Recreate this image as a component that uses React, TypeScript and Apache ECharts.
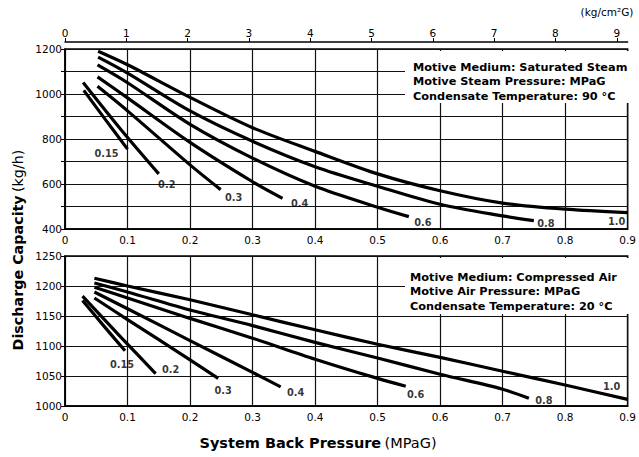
import React, { useEffect, useRef } from 'react';
import * as echarts from 'echarts';

const FONT = '"DejaVu Sans", Verdana, sans-serif';

// Motive pressures (MPaG) labelling each curve
const pressures = ['0.15', '0.2', '0.3', '0.4', '0.6', '0.8', '1.0'];

// Saturated steam (top chart): [back pressure MPaG, capacity kg/h]
const steam015 = [[0.030, 1016], [0.065, 885], [0.1, 755]];
const steam02 = [[0.029, 1051], [0.09, 840], [0.15, 645]];
const steam03 = [[0.052, 1034], [0.1, 925], [0.2, 685], [0.249, 575]];
const steam04 = [[0.052, 1076], [0.1, 983], [0.2, 785], [0.3, 610], [0.348, 536]];
const steam06 = [[0.052, 1129], [0.1, 1050], [0.2, 865], [0.3, 715], [0.4, 590], [0.5, 497], [0.55, 455]];
const steam08 = [[0.053, 1164], [0.1, 1093], [0.2, 925], [0.3, 790], [0.4, 677], [0.5, 590], [0.6, 510], [0.7, 458], [0.75, 437]];
const steam10 = [[0.053, 1190], [0.1, 1130], [0.2, 985], [0.3, 850], [0.4, 745], [0.5, 645], [0.6, 570], [0.7, 515], [0.8, 488], [0.9, 473]];

// Compressed air (bottom chart)
const air015 = [[0.028, 1176], [0.06, 1136], [0.096, 1092]];
const air02 = [[0.028, 1183], [0.09, 1114], [0.145, 1054]];
const air03 = [[0.047, 1180], [0.1, 1144], [0.2, 1077], [0.245, 1046]];
const air04 = [[0.047, 1190], [0.1, 1162], [0.2, 1109], [0.3, 1056], [0.345, 1032]];
const air06 = [[0.047, 1198], [0.1, 1180], [0.2, 1146], [0.3, 1113], [0.4, 1078], [0.5, 1046], [0.545, 1033]];
const air08 = [[0.047, 1205], [0.1, 1190], [0.2, 1160], [0.3, 1134], [0.4, 1106], [0.5, 1080], [0.6, 1053], [0.7, 1028], [0.742, 1013]];
const air10 = [[0.047, 1213], [0.1, 1200], [0.2, 1177], [0.3, 1152], [0.4, 1127], [0.5, 1103], [0.6, 1081], [0.7, 1058], [0.8, 1035], [0.9, 1011]];

const steamCurves = [steam015, steam02, steam03, steam04, steam06, steam08, steam10];
const airCurves = [air015, air02, air03, air04, air06, air08, air10];

// Text annotations
const steamNotes = ['Motive Medium: Saturated Steam', 'Motive Steam Pressure: MPaG', 'Condensate Temperature: 90 °C'];
const airNotes = ['Motive Medium: Compressed Air', 'Motive Air Pressure: MPaG', 'Condensate Temperature: 20 °C'];

// label offsets (px) from each curve end
const steamLabelOffsets = [[-21, 4], [8, 11], [13, 8], [17, 5], [14, 6], [12, 3], [-11, 9]];
const airLabelOffsets = [[-3, 14], [15, -4], [5, 12], [15, 6], [10, 8], [15, 2], [-16, -13]];

const KG_PER_MPA = 1 / 0.0980665;

function buildOption() {
  const axisText = { color: '#000', fontSize: 10.5, fontFamily: FONT };
  const xBase = (gridIndex: number) => ({
    type: 'value',
    gridIndex,
    min: 0,
    max: 0.9,
    interval: 0.1,
    axisLine: { show: true, lineStyle: { color: '#000', width: 1.5 } },
    axisTick: { show: false },
    axisLabel: { ...axisText, margin: 5, formatter: (v: number) => (v === 0 ? '0' : v.toFixed(1)) },
    splitLine: { show: true, lineStyle: { color: '#111', width: 1.2 } },
  });

  const lineSeries = (curves: number[][][], idx: number) =>
    curves.map((d, i) => ({
      type: 'line',
      name: pressures[i] + (idx === 0 ? ' steam' : ' air'),
      xAxisIndex: idx,
      yAxisIndex: idx,
      data: d,
      smooth: 0.3,
      showSymbol: false,
      silent: true,
      lineStyle: { color: '#000', width: 3.2 },
      z: 3,
    }));

  const labelSeries = (curves: number[][][], offsets: number[][], idx: number) => ({
    type: 'scatter',
    xAxisIndex: idx,
    yAxisIndex: idx,
    symbolSize: 1,
    silent: true,
    itemStyle: { color: 'rgba(0,0,0,0)' },
    z: 4,
    data: curves.map((d, i) => ({
      name: pressures[i],
      value: d[d.length - 1],
      label: { offset: offsets[i] },
    })),
    label: {
      show: true,
      position: 'inside',
      formatter: '{b}',
      color: '#000',
      fontSize: 9.8,
      fontWeight: 'bold',
      fontFamily: FONT,
    },
  });

  const noteGraphics = (lines: string[], x: number, y0: number, rect: number[]) => [
    {
      type: 'rect',
      z: 10,
      shape: { x: rect[0], y: rect[1], width: rect[2], height: rect[3] },
      style: { fill: '#fff' },
    },
    ...lines.map((t, i) => ({
      type: 'text',
      z: 11,
      x,
      y: y0 + i * 14.7,
      style: {
        text: t,
        fill: '#000',
        fontSize: 11.3,
        fontWeight: 'bold',
        fontFamily: FONT,
        align: 'left',
        verticalAlign: 'middle',
      },
    })),
  ];

  return {
    animation: false,
    backgroundColor: '#fff',
    grid: [
      { left: 65, right: 4, top: 49, height: 180, show: true, borderColor: '#000', borderWidth: 1.5, backgroundColor: 'transparent' },
      { left: 65, right: 4, top: 256, height: 150, show: true, borderColor: '#000', borderWidth: 1.5, backgroundColor: 'transparent' },
    ],
    xAxis: [
      xBase(0),
      xBase(1),
      {
        type: 'value',
        gridIndex: 0,
        position: 'top',
        offset: 7,
        min: 0,
        max: 0.9 * KG_PER_MPA,
        interval: 1,
        axisLine: { show: true, lineStyle: { color: '#000', width: 1.5 } },
        axisTick: { show: true, length: 4, lineStyle: { color: '#000', width: 1 } },
        axisLabel: {
          ...axisText,
          margin: 4,
          showMaxLabel: false,
          formatter: (v: number) => (Math.abs(v - Math.round(v)) < 1e-6 ? String(Math.round(v)) : ''),
        },
        splitLine: { show: false },
      },
    ],
    yAxis: [
      {
        type: 'value',
        gridIndex: 0,
        min: 400,
        max: 1200,
        interval: 100,
        axisLine: { show: true, lineStyle: { color: '#000', width: 1.5 } },
        axisTick: { show: true, length: 4, lineStyle: { color: '#000' } },
        axisLabel: { ...axisText, margin: 3, formatter: (v: number) => (v % 200 === 0 ? String(v) : '') },
        splitLine: { show: true, lineStyle: { color: '#111', width: 1.2 } },
      },
      {
        type: 'value',
        gridIndex: 1,
        min: 1000,
        max: 1250,
        interval: 50,
        axisLine: { show: true, lineStyle: { color: '#000', width: 1.5 } },
        axisTick: { show: true, length: 4, lineStyle: { color: '#000' } },
        axisLabel: { ...axisText, margin: 3, formatter: (v: number) => String(v) },
        splitLine: { show: true, lineStyle: { color: '#111', width: 1.2 } },
      },
    ],
    series: [
      ...lineSeries(steamCurves, 0),
      ...lineSeries(airCurves, 1),
      labelSeries(steamCurves, steamLabelOffsets, 0),
      labelSeries(airCurves, airLabelOffsets, 1),
    ],
    graphic: [
      ...noteGraphics(steamNotes, 413, 67, [405, 51, 228, 52]),
      ...noteGraphics(airNotes, 410, 277, [405, 258, 228, 56]),
      {
        type: 'text',
        x: 607,
        y: 12,
        style: { text: '(kg/cm²G)', fill: '#000', fontSize: 10.5, fontFamily: FONT, align: 'center', verticalAlign: 'middle' },
      },
      {
        type: 'text',
        x: 318,
        y: 443,
        style: {
          text: '{b|System Back Pressure} {n|(MPaG)}',
          align: 'center',
          verticalAlign: 'middle',
          rich: {
            b: { fontSize: 14.5, fontWeight: 'bold', fontFamily: FONT, fill: '#000' },
            n: { fontSize: 14.5, fontFamily: FONT, fill: '#000' },
          },
        },
      },
      {
        type: 'text',
        x: 18,
        y: 250,
        rotation: Math.PI / 2,
        style: {
          text: '{b|Discharge Capacity} {n|(kg/h)}',
          align: 'center',
          verticalAlign: 'middle',
          rich: {
            b: { fontSize: 14.3, fontWeight: 'bold', fontFamily: FONT, fill: '#000' },
            n: { fontSize: 14.3, fontFamily: FONT, fill: '#000' },
          },
        },
      },
    ],
  };
}

export default function App() {
  const ref = useRef<HTMLDivElement>(null);
  useEffect(() => {
    if (!ref.current) return;
    const chart = echarts.init(ref.current, null, { renderer: 'svg' });
    chart.setOption(buildOption() as any);
    return () => chart.dispose();
  }, []);
  return (
    <div
      ref={ref}
      style={{ position: 'fixed', left: 0, top: 0, width: 639, height: 457, background: '#fff' }}
    />
  );
}
